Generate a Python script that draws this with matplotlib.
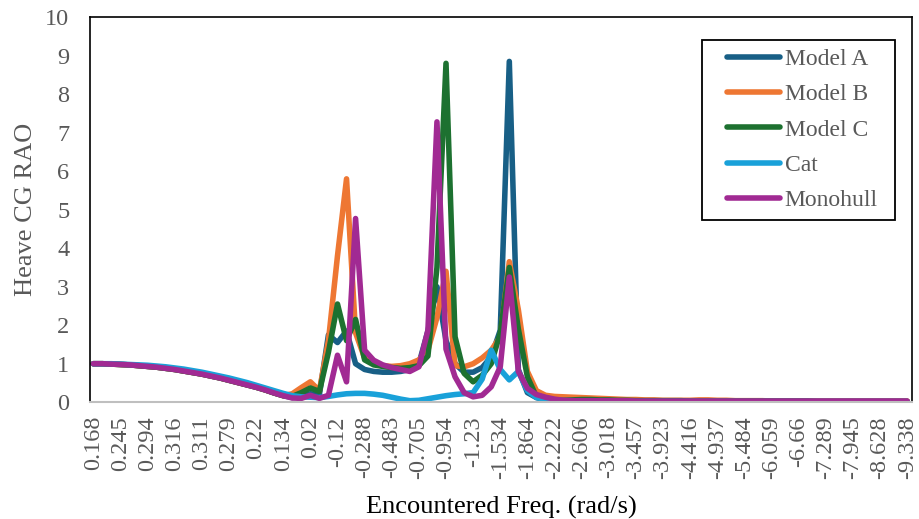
import numpy as np
import matplotlib
matplotlib.use("Agg")
import matplotlib.pyplot as plt
from matplotlib.patches import Rectangle

plt.rcParams['font.family'] = ['Liberation Serif', 'DejaVu Serif']

# tick labels (every third sample of the encountered frequency is labelled)
freq_labels = ['0.168', '0.245', '0.294', '0.316', '0.311', '0.279', '0.22', '0.134',
               '0.02', '-0.12', '-0.288', '-0.483', '-0.705', '-0.954', '-1.23',
               '-1.534', '-1.864', '-2.222', '-2.606', '-3.018', '-3.457', '-3.923',
               '-4.416', '-4.937', '-5.484', '-6.059', '-6.66', '-7.289', '-7.945',
               '-8.628', '-9.338']

model_a = [1.00, 1.00, 0.99, 0.98, 0.97, 0.95, 0.93, 0.91, 0.88, 0.85,
           0.81, 0.77, 0.73, 0.68, 0.63, 0.57, 0.51, 0.45, 0.39, 0.32,
           0.24, 0.17, 0.12, 0.15, 0.22, 0.20, 1.75, 1.55, 1.85, 1.00,
           0.85, 0.80, 0.78, 0.78, 0.80, 0.85, 1.00, 1.85, 3.00, 1.60,
           1.00, 0.78, 0.78, 0.90, 1.18, 1.87, 8.85, 0.85, 0.25, 0.12,
           0.07, 0.06, 0.05, 0.05, 0.04, 0.04, 0.04, 0.04, 0.03, 0.03,
           0.03, 0.03, 0.03, 0.03, 0.03, 0.03, 0.03, 0.03, 0.03, 0.03,
           0.03, 0.03, 0.03, 0.03, 0.02, 0.02, 0.02, 0.02, 0.02, 0.02,
           0.02, 0.02, 0.02, 0.02, 0.02, 0.02, 0.02, 0.02, 0.02, 0.02,
           0.02]

model_b = [1.00, 1.00, 0.99, 0.98, 0.97, 0.95, 0.93, 0.91, 0.88, 0.85,
           0.81, 0.77, 0.73, 0.68, 0.63, 0.57, 0.51, 0.45, 0.39, 0.32,
           0.24, 0.17, 0.22, 0.38, 0.53, 0.30, 1.60, 3.80, 5.80, 1.80,
           1.15, 1.00, 0.95, 0.93, 0.95, 1.00, 1.10, 1.35, 2.20, 3.40,
           0.95, 0.92, 1.00, 1.15, 1.35, 1.70, 3.65, 2.40, 0.80, 0.30,
           0.18, 0.15, 0.14, 0.13, 0.12, 0.11, 0.10, 0.09, 0.08, 0.07,
           0.07, 0.06, 0.06, 0.05, 0.05, 0.05, 0.05, 0.06, 0.06, 0.05,
           0.05, 0.04, 0.04, 0.04, 0.04, 0.03, 0.03, 0.03, 0.03, 0.03,
           0.03, 0.03, 0.03, 0.03, 0.03, 0.03, 0.03, 0.03, 0.03, 0.03,
           0.03]

model_c = [1.00, 1.00, 0.99, 0.98, 0.97, 0.95, 0.93, 0.91, 0.88, 0.85,
           0.81, 0.77, 0.73, 0.68, 0.63, 0.57, 0.51, 0.45, 0.39, 0.32,
           0.24, 0.17, 0.15, 0.25, 0.37, 0.28, 1.30, 2.55, 1.60, 2.15,
           1.10, 0.97, 0.93, 0.90, 0.88, 0.90, 0.95, 1.20, 3.50, 8.80,
           1.70, 0.75, 0.53, 0.70, 1.00, 1.80, 3.50, 1.90, 0.66, 0.14,
           0.06, 0.05, 0.05, 0.06, 0.07, 0.07, 0.06, 0.06, 0.05, 0.05,
           0.04, 0.04, 0.04, 0.04, 0.04, 0.04, 0.03, 0.03, 0.03, 0.03,
           0.03, 0.03, 0.03, 0.03, 0.03, 0.03, 0.03, 0.03, 0.03, 0.03,
           0.02, 0.02, 0.02, 0.02, 0.02, 0.02, 0.02, 0.02, 0.02, 0.02,
           0.02]

cat = [1.00, 1.00, 1.00, 0.99, 0.98, 0.97, 0.96, 0.94, 0.92, 0.89,
       0.86, 0.82, 0.78, 0.73, 0.68, 0.63, 0.57, 0.51, 0.44, 0.37,
       0.30, 0.23, 0.17, 0.14, 0.13, 0.12, 0.15, 0.19, 0.22, 0.23,
       0.23, 0.21, 0.18, 0.13, 0.08, 0.04, 0.05, 0.09, 0.13, 0.17,
       0.20, 0.22, 0.25, 0.60, 1.35, 0.85, 0.58, 0.80, 0.30, 0.12,
       0.07, 0.05, 0.04, 0.04, 0.03, 0.03, 0.03, 0.03, 0.03, 0.03,
       0.02, 0.02, 0.02, 0.02, 0.02, 0.02, 0.02, 0.02, 0.02, 0.02,
       0.02, 0.02, 0.02, 0.02, 0.02, 0.02, 0.02, 0.02, 0.02, 0.02,
       0.02, 0.02, 0.02, 0.02, 0.02, 0.02, 0.02, 0.02, 0.02, 0.02,
       0.02]

monohull = [1.00, 1.00, 0.99, 0.98, 0.97, 0.95, 0.93, 0.91, 0.88, 0.85,
            0.81, 0.77, 0.73, 0.68, 0.63, 0.57, 0.51, 0.45, 0.39, 0.32,
            0.24, 0.17, 0.11, 0.10, 0.18, 0.10, 0.18, 1.22, 0.53, 4.77,
            1.35, 1.09, 0.97, 0.90, 0.85, 0.80, 0.92, 1.87, 7.28, 1.38,
            0.66, 0.25, 0.14, 0.18, 0.40, 0.92, 3.25, 0.80, 0.36, 0.20,
            0.13, 0.08, 0.05, 0.04, 0.04, 0.04, 0.04, 0.04, 0.04, 0.04,
            0.03, 0.03, 0.03, 0.03, 0.03, 0.03, 0.03, 0.03, 0.03, 0.03,
            0.03, 0.03, 0.03, 0.03, 0.03, 0.03, 0.03, 0.03, 0.03, 0.03,
            0.03, 0.03, 0.03, 0.03, 0.03, 0.03, 0.03, 0.03, 0.03, 0.03,
            0.03]

series = [('Model A', model_a, '#185F86'),
          ('Model B', model_b, '#EE7733'),
          ('Model C', model_c, '#1D7130'),
          ('Cat', cat, '#19A1D9'),
          ('Monohull', monohull, '#A12A93')]

x = np.arange(len(model_a))

fig = plt.figure(figsize=(9.2, 5.19), dpi=100)
ax = fig.add_axes([0.098, 0.225, 0.893, 0.742])

for name, vals, col in series:
    ax.plot(x, vals, color=col, lw=4.0, label=name,
            solid_capstyle='round', solid_joinstyle='round')

ax.set_xlim(-0.35, 90.5)
ax.set_ylim(0, 10)
ax.set_yticks(range(0, 11))
ax.set_xticks(x[::3])
ax.set_xticklabels(freq_labels, rotation=90)
ax.tick_params(axis='both', length=0, labelsize=17.5, labelcolor='#595959')
ax.tick_params(axis='y', pad=15)
ax.tick_params(axis='x', pad=10)

for s in ['left', 'top', 'right']:
    ax.spines[s].set_color('black')
    ax.spines[s].set_linewidth(1.2)
ax.spines['bottom'].set_color('#BFBFBF')
ax.spines['bottom'].set_linewidth(1.5)

ax.set_ylabel('Heave CG RAO', fontsize=19, color='#595959', labelpad=6)
ax.set_xlabel('Encountered Freq. (rad/s)', fontsize=19, color='black', labelpad=12)

leg = ax.legend(loc='upper left', bbox_to_anchor=(0.7646, 0.94), fontsize=17,
                frameon=False, handlelength=2.25, handletextpad=0.2,
                labelspacing=0.58, borderpad=0.36, borderaxespad=0)
for t in leg.get_texts():
    t.set_color('#595959')

# Excel-like legend box: extra room to the left of the handles
fig.canvas.draw()
bb = leg.get_window_extent().transformed(fig.transFigure.inverted())
padl, padr = 16 / 920, 9 / 920
frame = Rectangle((bb.x0 - padl, bb.y0), bb.width + padl + padr, bb.height,
                  transform=fig.transFigure, fill=False, edgecolor='black',
                  linewidth=1.3, zorder=5)
fig.add_artist(frame)

fig.savefig('out.png', dpi=100)
